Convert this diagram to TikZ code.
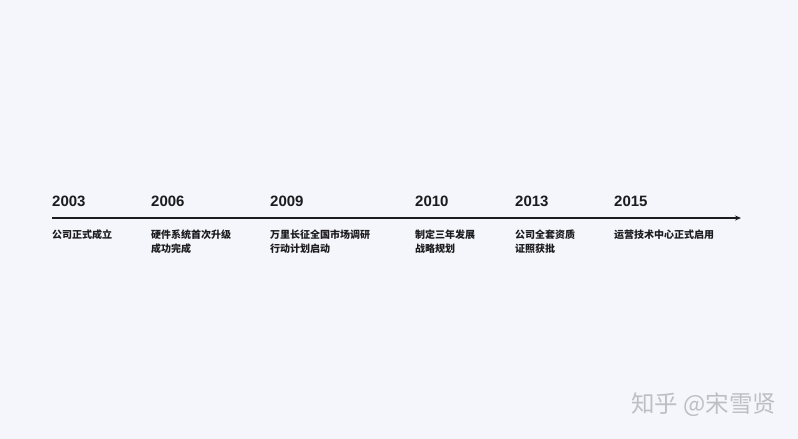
\documentclass[tikz,border=0pt]{standalone}
\usepackage{fontspec}
\setmainfont{Liberation Sans}
\newfontfamily\cjk{Noto Sans CJK SC}
\usetikzlibrary{arrows.meta}
\definecolor{bg}{HTML}{F5F5FC}
\definecolor{ink}{HTML}{1C1C1E}
\definecolor{wm}{HTML}{BEBEC4}
\begin{document}
\begin{tikzpicture}[x=1pt,y=-1pt,
  year/.style={anchor=west,inner sep=0pt,font=\fontsize{15}{15}\selectfont\bfseries,text=ink},
  lbl/.style={anchor=north west,inner sep=0pt,align=left,font=\cjk\fontsize{10}{14}\selectfont\bfseries,text=ink},
  axis/.style={draw=ink,line width=1.3pt,-{Stealth[length=6pt,width=5pt]}}]
\fill[bg] (0,0) rectangle (798,439);
\useasboundingbox (0,0) rectangle (798,439);
\coordinate (start) at (52,218);
\coordinate (end) at (741,218);
\draw[axis] (start) -- (end);
\node[year] (y1) at (52,201) {2003};
\node[year] (y2) at (151,201) {2006};
\node[year] (y3) at (270,201) {2009};
\node[year] (y4) at (415,201) {2010};
\node[year] (y5) at (515,201) {2013};
\node[year] (y6) at (614,201) {2015};
\node[lbl] (l1) at (52,230) {公司正式成立};
\node[lbl] (l2) at (151,230) {硬件系统首次升级\\成功完成};
\node[lbl] (l3) at (270,230) {万里长征全国市场调研\\行动计划启动};
\node[lbl] (l4) at (415,230) {制定三年发展\\战略规划};
\node[lbl] (l5) at (515,230) {公司全套资质\\证照获批};
\node[lbl] (l6) at (614,230) {运营技术中心正式启用};
\node[anchor=west,inner sep=0pt,font=\cjk\fontsize{23.5}{23.5}\selectfont,text=wm] (wm) at (631,405) {知乎 @宋雪贤};
\end{tikzpicture}
\end{document}
